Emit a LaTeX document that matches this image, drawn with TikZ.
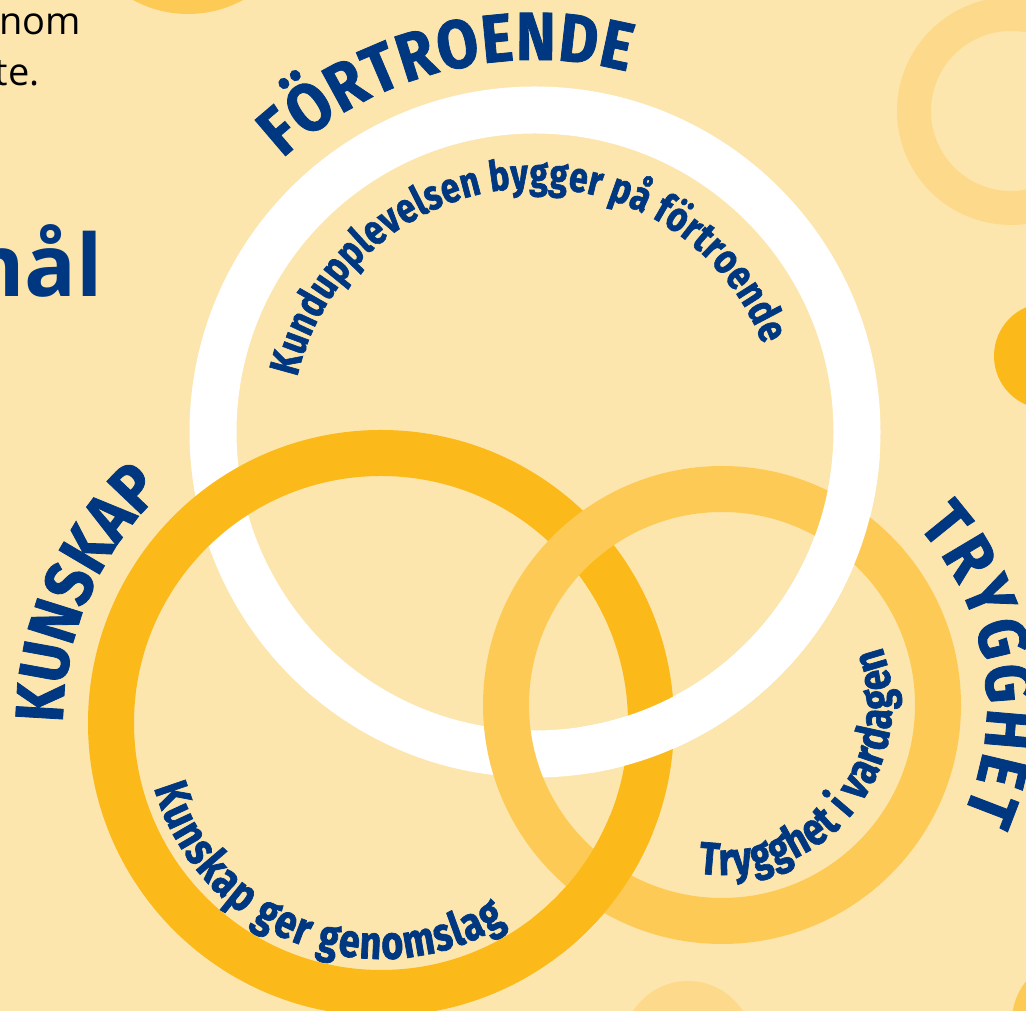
\documentclass[tikz,border=0pt]{standalone}
\usepackage{fontspec}
\setmainfont{Fira Sans}
\newfontfamily\lblfont[FakeStretch=0.88,FakeBold=1.2]{Fira Sans}
\newfontfamily\subfont[FakeStretch=0.8,FakeBold=1.5]{Fira Sans}
\newfontfamily\osfont{Open Sans}
\usetikzlibrary{decorations.text}
\definecolor{bg}{HTML}{FCE6AD}
\definecolor{kunc}{HTML}{FBB91A}
\definecolor{trygc}{HTML}{FDCB55}
\definecolor{decoc}{HTML}{FDDA8B}
\definecolor{lsblue}{HTML}{003781}
\begin{document}
\begin{tikzpicture}[x=1pt,y=1pt,
  ring/.style={line width=46pt},
  bigtext/.style={decorate, decoration={text along path, text color=lsblue, text align=fit to path,
     text={|\lblfont\bfseries\fontsize{68}{68}\selectfont|#1}}},
  subtext/.style n args={2}{decorate, decoration={text along path, text color=lsblue, text align=fit to path,
     text={|\subfont\bfseries\fontsize{#1}{#1}\selectfont|#2}}},
]
\useasboundingbox (0,0) rectangle (1026,1011);
\clip (0,0) rectangle (1026,1011);
\fill[bg] (0,0) rectangle (1026,1011);
% decorative shapes
\fill[trygc] (188,1112) circle[radius=115];
\draw[decoc, line width=34pt] (1011,900) circle[radius=97];
\fill[kunc] (1047,655) circle[radius=53];
\fill[decoc] (688,-35) circle[radius=65];
\fill[trygc] (1075,-10) circle[radius=63];
% side texts
\node[anchor=base east, font=\osfont\fontsize{38}{38}\selectfont, inner sep=0] (t1) at (81,976) {nom};
\node[anchor=base east, font=\osfont\fontsize{38}{38}\selectfont, inner sep=0] (t2) at (40,925) {te.};
\node[anchor=base east, font=\osfont\bfseries\fontsize{86}{86}\selectfont, text=lsblue, inner sep=0] (t3) at (103,714) {mål};
% rings
\draw[white, line width=47pt] (535,579) circle[radius=322];
\draw[kunc, ring] (381,288) circle[radius=270];
\draw[trygc, ring] (722,306) circle[radius=216];
% interlacing fixes
\draw[white, line width=47pt] (535,579) ++(-81:322) arc[start angle=-81, end angle=-4, radius=322];
\draw[kunc, ring] (381,288) ++(-52:270) arc[start angle=-52, end angle=-22, radius=270];
% curved labels
\path[bigtext={FÖRTROENDE}] (535,579) ++(132.7:372) arc[start angle=132.7, end angle=75.6, radius=372];
\path[bigtext={KUNSKAP}] (381,288) ++(180:318) arc[start angle=180, end angle=134, radius=318];
\path[bigtext={TRYGGHET}] (722,306) ++(42.5:265) arc[start angle=42.5, end angle=-24.5, radius=265];
\path[subtext={42}{Kundupplevelsen bygger på förtroende}] (535,579) ++(167:244) arc[start angle=167, end angle=21, radius=244];
\path[subtext={47}{Kunskap ger genomslag}] (381,288) ++(196:236) arc[start angle=196, end angle=302, radius=236];
\path[subtext={46}{Trygghet i vardagen}] (722,306) ++(262:170) arc[start angle=262, end angle=380, radius=170];
\end{tikzpicture}
\end{document}
